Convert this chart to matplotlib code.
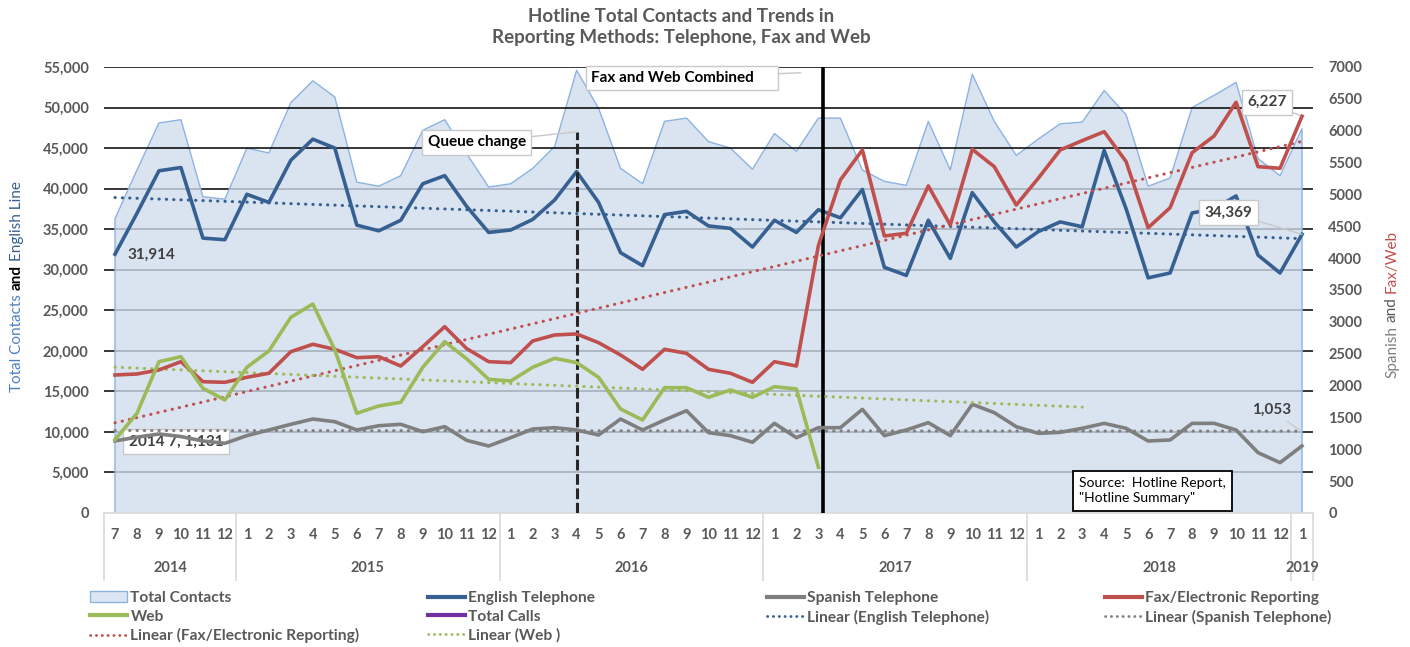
import matplotlib.pyplot as plt
import numpy as np
from matplotlib.patches import Patch
from matplotlib.lines import Line2D

plt.rcParams['font.family'] = ['Lato', 'DejaVu Sans']

W, H = 1410, 647

# x categories: 2014-7 .. 2019-1
months = [7, 8, 9, 10, 11, 12,
          1, 2, 3, 4, 5, 6, 7, 8, 9, 10, 11, 12,
          1, 2, 3, 4, 5, 6, 7, 8, 9, 10, 11, 12,
          1, 2, 3, 4, 5, 6, 7, 8, 9, 10, 11, 12,
          1, 2, 3, 4, 5, 6, 7, 8, 9, 10, 11, 12,
          1]
years = ['2014', '2015', '2016', '2017', '2018', '2019']

# left axis
total_contacts = [36300, 42300, 48100, 48500, 39000, 38700, 45000, 44400, 50600, 53300,
                  51300, 40800, 40300, 41600, 47200, 48500, 44300, 40200, 40600, 42500,
                  45200, 54600, 49900, 42500, 40600, 48300, 48700, 45800, 45000, 42400,
                  46800, 44600, 48700, 48700, 42300, 40900, 40400, 48300, 42300, 54100,
                  48300, 44100, 46100, 48000, 48200, 52100, 49100, 40300, 41300, 50000,
                  51500, 53100, 43700, 41600, 47400]
english = [31914, 36960, 42200, 42600, 33900, 33700, 39300, 38300, 43500, 46100,
           45000, 35500, 34800, 36100, 40600, 41600, 37800, 34600, 34900, 36200,
           38600, 42100, 38300, 32100, 30500, 36800, 37200, 35400, 35100, 32800,
           36100, 34600, 37400, 36400, 39900, 30300, 29300, 36100, 31400, 39500,
           35900, 32800, 34700, 35900, 35300, 44700, 37500, 29000, 29600, 37000,
           37500, 39100, 31800, 29600, 34369]

# right axis
spanish = [1131, 1190, 1240, 1200, 1130, 1094, 1214, 1303, 1392, 1475,
           1433, 1303, 1370, 1392, 1276, 1355, 1140, 1052, 1182, 1318,
           1339, 1303, 1224, 1475, 1303, 1460, 1606, 1261, 1214, 1110,
           1407, 1182, 1339, 1339, 1627, 1214, 1303, 1418, 1214, 1706,
           1575, 1355, 1250, 1266, 1329, 1407, 1329, 1130, 1146, 1407,
           1407, 1303, 947, 790, 1053]
fax = [2166, 2182, 2245, 2375, 2061, 2051, 2130, 2193, 2532, 2648,
       2569, 2438, 2453, 2307, 2610, 2924, 2580, 2375, 2360, 2700,
       2794, 2810, 2673, 2480, 2255, 2569, 2506, 2255, 2193, 2051,
       2375, 2307, 4200, 5227, 5698, 4348, 4390, 5133, 4520, 5708,
       5436, 4834, 5253, 5698, 5844, 5985, 5514, 4478, 4792, 5655,
       5917, 6446, 5436, 5410, 6227]
web = [1150, 1565, 2375, 2453, 1957, 1774, 2287, 2543, 3072, 3280,
       2560, 1565, 1680, 1737, 2287, 2689, 2420, 2098, 2072, 2287,
       2428, 2360, 2130, 1632, 1460, 1967, 1967, 1816, 1931, 1816,
       1983, 1946, 717]

c_area_face = '#d0dded'
c_area_edge = '#8db3e2'
c_eng = '#376092'
c_spa = '#7f7f7f'
c_fax = '#c0504d'
c_web = '#9bbb59'
c_calls = '#7030a0'
c_tick = '#595959'

fig = plt.figure(figsize=(W / 100, H / 100), dpi=100)
ax = fig.add_axes([104 / W, 1 - 513 / H, (1313 - 104) / W, (513 - 67) / H])
ax2 = ax.twinx()

x = np.arange(len(months))
n = len(months)

# gridlines (black, partly seen through the translucent area)
for v in range(5000, 55001, 5000):
    ax.axhline(v, color='black', lw=1.1, zorder=0.5 if v < 45000 else 3)

ax.fill_between(x, total_contacts, 0, facecolor=c_area_face, alpha=0.78,
                edgecolor='none', zorder=1)
ax.plot(np.r_[0, x, n - 1], np.r_[0, total_contacts, 0], color=c_area_edge,
        lw=1.0, zorder=1.2)
ax.axhline(0, color='#d9d9d9', lw=1.2, zorder=1.3, clip_on=False)

ax.plot(x, english, color=c_eng, lw=2.6, zorder=4, solid_joinstyle='round')

dots = dict(linestyle=(0, (0.1, 2.3)), dash_capstyle='round', lw=2.2)
p = np.polyfit(x, english, 1)
ax.plot(x, np.polyval(p, x), color=c_eng, zorder=3.5, **dots)

# event markers
ax.plot([21, 21], [0, 47000], color='#262626', lw=2.2, ls=(0, (3.5, 1.2)), zorder=5)
ax.plot([32.2, 32.2], [0, 55000], color='black', lw=2.6, zorder=5)

ax.set_xlim(-0.5, n - 0.5)
ax.set_ylim(0, 55000)
ax.set_yticks(range(0, 55001, 5000))
ax.set_yticklabels([f'{v:,}' for v in range(0, 55001, 5000)])
ax.tick_params(axis='y', length=0, pad=11, labelsize=10.5, labelcolor=c_tick)
ax.set_xticks([])
for s in ax.spines.values():
    s.set_visible(False)

# right axis series
ax2.plot(x, spanish, color=c_spa, lw=2.6, zorder=3, solid_joinstyle='round')
ax2.plot(x, fax, color=c_fax, lw=2.6, zorder=4, solid_joinstyle='round')
xw = np.arange(len(web))
ax2.plot(xw, web, color=c_web, lw=2.6, zorder=4, solid_joinstyle='round')

p = np.polyfit(x, spanish, 1)
ax2.plot(x, np.polyval(p, x), color=c_spa, zorder=3.5, **dots)
p = np.polyfit(x, fax, 1)
ax2.plot(x, np.polyval(p, x), color=c_fax, zorder=3.5, **dots)
p = np.polyfit(xw, web, 1)
xw_f = np.arange(len(web) + 12)
ax2.plot(xw_f, np.polyval(p, xw_f), color=c_web, zorder=3.5, **dots)

ax2.set_ylim(0, 7000)
ax2.set_yticks(range(0, 7001, 500))
ax2.tick_params(axis='y', length=0, pad=11, labelsize=10.5, labelcolor=c_tick)
for lab in ax2.get_yticklabels():
    lab.set_fontweight('bold')
for lab in ax.get_yticklabels():
    lab.set_fontweight('bold')
for s in ax2.spines.values():
    s.set_visible(False)

# two-level category axis
trans = ax.get_xaxis_transform()
for i, m in enumerate(months):
    ax.text(i, -0.049, str(m), transform=trans, ha='center', va='center',
            fontsize=10.5, fontweight='bold', color=c_tick)
starts = [i for i, m in enumerate(months) if m == 1 or i == 0]
ends = starts[1:] + [n]
for yr, s0, e0 in zip(years, starts, ends):
    ax.text((s0 + e0 - 1) / 2, -0.123, yr, transform=trans, ha='center', va='center',
            fontsize=10.5, fontweight='bold', color=c_tick)
    ax.plot([s0 - 0.5, s0 - 0.5], [0, -0.15], transform=trans, color='#d9d9d9',
            lw=1.2, clip_on=False)
ax.plot([n - 0.5, n - 0.5], [0, -0.15], transform=trans, color='#d9d9d9', lw=1.2,
        clip_on=False)

# annotations
box = dict(boxstyle='square,pad=0.35', fc='white', ec='#c8c8c8', lw=1)
ax.annotate('Queue change', xy=(21, 47000), xytext=(16.45, 45700), ha='center',
            va='center', fontsize=11, fontweight='bold', bbox=box, zorder=6,
            arrowprops=dict(arrowstyle='-', color='#c8c8c8', lw=1, shrinkA=0, shrinkB=0))
ax.annotate('Fax and Web Combined     ', xy=(31.2, 54300), xytext=(25.8, 53650),
            ha='center', va='center', fontsize=11, fontweight='bold', bbox=box,
            zorder=6, arrowprops=dict(arrowstyle='-', color='#c8c8c8', lw=1,
                                      shrinkA=0, shrinkB=0))
ax.text(0.58, 31800, '31,914', ha='left', va='center', fontsize=11,
        fontweight='bold', color='#404040', zorder=6)
ax.annotate('34,369', xy=(n - 1, 34369), xytext=(50.66, 37080), ha='center',
            va='center', fontsize=11, fontweight='bold', color='#404040', bbox=box,
            zorder=6, arrowprops=dict(arrowstyle='-', color='#c8c8c8', lw=1,
                                      shrinkA=0, shrinkB=0))
ax.annotate('6,227', xy=(n - 1, 6227 * 55000 / 7000), xytext=(52.4, 50650),
            ha='center', va='center', fontsize=11, fontweight='bold',
            color='#404040', bbox=box, zorder=6,
            arrowprops=dict(arrowstyle='-', color='#c8c8c8', lw=1, shrinkA=0, shrinkB=0))
ax.annotate('1,053', xy=(53.9, 1300 * 55000 / 7000), xytext=(52.6, 12700),
            ha='center', va='center', fontsize=11, fontweight='bold',
            color='#404040', zorder=6,
            arrowprops=dict(arrowstyle='-', color='#c8c8c8', lw=1, shrinkA=2, shrinkB=0))
ax.text(2.77, 8820, '2014 7, 1,131', ha='center', va='center', fontsize=11,
        fontweight='bold', color='#404040', bbox=box, zorder=6)
ax.text(43.85, 2720, 'Source:  Hotline Report,\n"Hotline Summary"', ha='left',
        va='center', multialignment='left', fontsize=10, color='black',
        linespacing=1.3, zorder=6,
        bbox=dict(boxstyle='square,pad=0.45', fc='white', ec='black', lw=1.3))

fig.text(681 / W, 1 - 27 / H,
         'Hotline Total Contacts and Trends in\nReporting Methods: Telephone, Fax and Web',
         ha='center', va='center', fontsize=13.5, fontweight='bold', color=c_tick,
         linespacing=1.3)


def vlabel(x_px, y_bottom_px, parts, size=11):
    fig.canvas.draw()
    r = fig.canvas.get_renderer()
    y = y_bottom_px
    for txt, color, weight in parts:
        t = fig.text(x_px / W, 1 - y / H, txt, rotation=90, color=color,
                     fontweight=weight, fontsize=size, ha='center', va='bottom')
        y -= t.get_window_extent(r).height + 4


vlabel(17, 392, [('Total Contacts', '#4f81bd', 'normal'),
                 ('and', 'black', 'bold'),
                 ('English Line', c_eng, 'normal')])
vlabel(1392, 378, [('Spanish', c_spa, 'normal'),
                   ('and', c_tick, 'normal'),
                   ('Fax/Web', c_fax, 'normal')])

# legend, four columns placed side by side
dl = dict(linestyle=(0, (0.1, 2.0)), dash_capstyle='round', lw=2.0)
h_tc = Patch(facecolor='#dce6f2', edgecolor=c_area_edge, lw=1)
cols = [
    ([h_tc, Line2D([], [], color=c_web, lw=3), Line2D([], [], color=c_fax, **dl)],
     ['Total Contacts', 'Web', 'Linear (Fax/Electronic Reporting)'], 90),
    ([Line2D([], [], color=c_eng, lw=3), Line2D([], [], color=c_calls, lw=3),
      Line2D([], [], color=c_web, **dl)],
     ['English Telephone', 'Total Calls', 'Linear (Web )'], 428),
    ([Line2D([], [], color=c_spa, lw=3), Line2D([], [], color=c_eng, **dl)],
     ['Spanish Telephone', 'Linear (English Telephone)'], 767),
    ([Line2D([], [], color=c_fax, lw=3), Line2D([], [], color=c_spa, **dl)],
     ['Fax/Electronic Reporting', 'Linear (Spanish Telephone)'], 1105),
]
for hs, ls, xp in cols:
    fig.legend(hs, ls, loc='upper left', bbox_to_anchor=(xp / W, 1 - 591 / H),
               frameon=False, borderpad=0, borderaxespad=0, handlelength=2.4,
               handletextpad=0.2, labelspacing=0.3, labelcolor=c_tick,
               prop=dict(family='Lato', weight='bold', size=11.2))

fig.savefig('out.png', dpi=100)
